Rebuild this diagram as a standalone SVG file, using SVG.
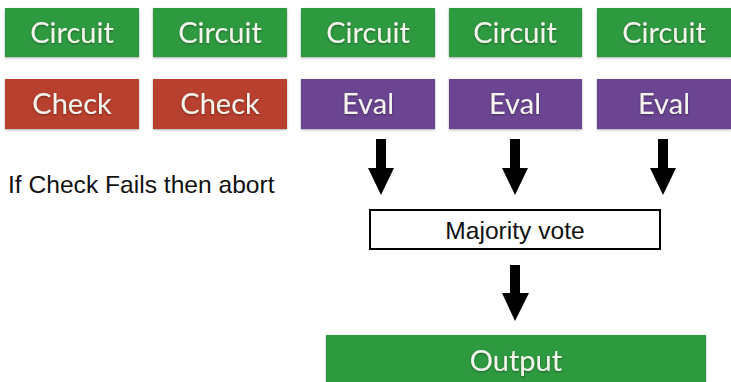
<svg xmlns="http://www.w3.org/2000/svg" width="731" height="382" viewBox="0 0 731 382">
  <defs>
    <filter id="shadow" x="-5%" y="-10%" width="110%" height="130%">
      <feDropShadow dx="0" dy="1" stdDeviation="1" flood-color="#000" flood-opacity="0.35"/>
    </filter>
    <filter id="tshadow" x="-5%" y="-10%" width="110%" height="130%">
      <feDropShadow dx="0" dy="1" stdDeviation="0.8" flood-color="#000" flood-opacity="0.4"/>
    </filter>
  </defs>
  <style>
    .green { fill: #2f9a41; }
    .red { fill: #b8412f; }
    .purple { fill: #6c4592; }
    .tile { filter: url(#shadow); }
    .label { font-family: "Lato", "Open Sans", sans-serif; font-size: 29px; fill: #f4f4ee; text-anchor: middle; filter: url(#tshadow); }
    .plain { font-family: "Liberation Sans", Arial, sans-serif; font-size: 24.6px; fill: #111; }
    .arrow { fill: #000; }
  </style>

  <!-- top row: circuits -->
  <g id="circuit1"><rect class="tile green" x="5" y="8" width="134" height="49"/><text class="label" x="72" y="43">Circuit</text></g>
  <g id="circuit2"><rect class="tile green" x="153" y="8" width="134" height="49"/><text class="label" x="220" y="43">Circuit</text></g>
  <g id="circuit3"><rect class="tile green" x="301" y="8" width="134" height="49"/><text class="label" x="368" y="43">Circuit</text></g>
  <g id="circuit4"><rect class="tile green" x="449" y="8" width="133" height="49"/><text class="label" x="515" y="43">Circuit</text></g>
  <g id="circuit5"><rect class="tile green" x="597" y="8" width="134" height="49"/><text class="label" x="664" y="43">Circuit</text></g>

  <!-- second row: checks and evaluations -->
  <g id="check1"><rect class="tile red" x="5" y="79" width="134" height="50"/><text class="label" x="72" y="114">Check</text></g>
  <g id="check2"><rect class="tile red" x="153" y="79" width="134" height="50"/><text class="label" x="220" y="114">Check</text></g>
  <g id="eval1"><rect class="tile purple" x="301" y="79" width="134" height="50"/><text class="label" x="368" y="114">Eval</text></g>
  <g id="eval2"><rect class="tile purple" x="449" y="79" width="133" height="50"/><text class="label" x="515" y="114">Eval</text></g>
  <g id="eval3"><rect class="tile purple" x="597" y="79" width="134" height="50"/><text class="label" x="664" y="114">Eval</text></g>

  <g id="note"><text class="plain" x="8" y="193">If Check Fails then abort</text></g>

  <g id="vote">
    <rect x="370" y="210" width="290" height="39" fill="#fff" stroke="#000" stroke-width="2"/>
    <text class="plain" x="515" y="239" text-anchor="middle" font-size="25">Majority vote</text>
  </g>

  <g id="output"><rect class="tile green" x="326" y="335" width="380" height="60"/><text class="label" x="516" y="371">Output</text></g>

  <!-- block arrows -->
  <g id="connectors">
    <polygon class="arrow" points="376,139 386,139 386,168 394,168 381,195 368,168 376,168"/>
    <polygon class="arrow" points="510,139 520,139 520,168 528,168 515,195 502,168 510,168"/>
    <polygon class="arrow" points="658,139 668,139 668,168 676,168 663,195 650,168 658,168"/>
    <polygon class="arrow" points="510,265 520,265 520,293 529,293 515,321 502,293 510,293"/>
  </g>
</svg>
